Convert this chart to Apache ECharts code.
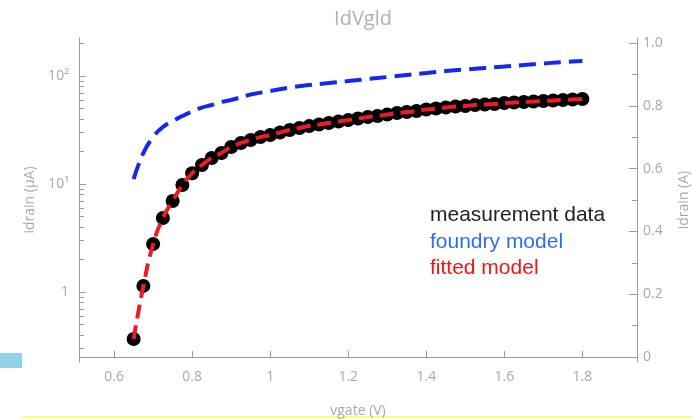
<!DOCTYPE html>
<html lang="en">
<head>
<meta charset="UTF-8">
<title>IdVgld</title>
<script src="https://cdn.jsdelivr.net/npm/echarts@6.0.0/dist/echarts.min.js"></script>
<style>
  html, body { margin: 0; padding: 0; background: #fff; }
  #main { width: 692px; height: 419px; }
</style>
</head>
<body>
<div id="main"></div>
<script>
  // measured points, vgate step 0.025 V, idrain in uA
  const vgate = [0.65, 0.675, 0.7, 0.725, 0.75, 0.775, 0.8, 0.825, 0.85, 0.875, 0.9, 0.925, 0.95, 0.975,
    1.0, 1.025, 1.05, 1.075, 1.1, 1.125, 1.15, 1.175, 1.2, 1.225, 1.25, 1.275, 1.3, 1.325, 1.35, 1.375,
    1.4, 1.425, 1.45, 1.475, 1.5, 1.525, 1.55, 1.575, 1.6, 1.625, 1.65, 1.675, 1.7, 1.725, 1.75, 1.775, 1.8];
  const measured = [0.367, 1.14, 2.78, 4.85, 6.96, 9.79, 12.6, 15.0, 17.4, 19.4, 22.0, 24.0, 25.6, 27.2,
    28.4, 30.0, 31.6, 33.0, 34.4, 35.6, 36.7, 37.9, 39.1, 40.4, 41.7, 42.6, 44.0, 45.4, 46.4, 47.4,
    49.0, 50.0, 51.1, 52.2, 52.8, 53.9, 54.5, 55.1, 56.2, 56.8, 57.5, 58.1, 58.7, 59.3, 60.0, 60.6, 61.2];
  const fitted = [0.367, 1.14, 2.78, 4.85, 6.96, 9.79, 12.6, 15.0, 17.4, 19.4, 22.0, 24.0, 25.6, 27.2,
    28.4, 30.0, 31.6, 33.0, 34.4, 35.6, 36.7, 37.9, 39.1, 40.4, 41.7, 42.6, 44.0, 45.4, 46.4, 47.4,
    49.0, 50.0, 51.1, 52.2, 52.8, 53.9, 54.5, 55.1, 56.2, 56.8, 57.5, 58.1, 58.7, 59.3, 60.0, 60.6, 61.2];

  // foundry model curve
  const foundryVgate = [0.65, 0.675, 0.7, 0.725, 0.75, 0.775, 0.8, 0.825, 0.85, 0.875, 0.9, 0.95, 1.0,
    1.05, 1.1, 1.15, 1.2, 1.25, 1.3, 1.35, 1.4, 1.45, 1.5, 1.55, 1.6, 1.65, 1.7, 1.75, 1.8];
  const foundry = [11.1, 19.4, 27.2, 33.7, 38.3, 42.6, 46.9, 51.1, 53.9, 57.5, 60.0, 67.4, 72.6,
    78.3, 82.5, 86.1, 89.9, 93.8, 97.9, 102.2, 106.6, 111.2, 114.9, 118.6, 122.4, 126.5, 130.5, 134.8, 137.7];

  // ticks
  const xTicks = [0.6, 0.8, 1, 1.2, 1.4, 1.6, 1.8];
  const leftTicks = [1, 10, 100];
  const leftLabels = ['1', '10\u00b9', '10\u00b2'];
  const leftMinor = [0.3, 0.4, 0.5, 0.6, 0.7, 0.8, 0.9, 2, 3, 4, 5, 6, 7, 8, 9,
    20, 30, 40, 50, 60, 70, 80, 90, 200];
  const rightTicks = [0, 0.2, 0.4, 0.6, 0.8, 1.0];
  const rightMinor = [0.1, 0.3, 0.5, 0.7, 0.9];

  const chart = echarts.init(document.getElementById('main'));

  const axisGray = '#9a9a9a';
  const labelGray = '#a8a8a8';
  const font = 'Open Sans';

  const option = {
    animation: false,
    backgroundColor: '#fff',
    title: {
      text: 'IdVgld',
      left: 358,
      top: 4,
      textAlign: 'center',
      textStyle: { color: '#b0b0b0', fontSize: 20, fontWeight: 'normal', fontFamily: font }
    },
    grid: { left: 79, right: 55, top: 38, bottom: 57, outerBoundsMode: 'none', containLabel: false },
    xAxis: {
      type: 'value',
      min: 0.51,
      max: 1.94,
      name: 'vgate (V)',
      nameLocation: 'middle',
      nameGap: 42,
      nameTextStyle: { color: labelGray, fontSize: 14, fontFamily: font },
      axisLine: { lineStyle: { color: axisGray } },
      axisTick: { inside: true, length: 6, customValues: xTicks, lineStyle: { color: axisGray } },
      axisLabel: { customValues: xTicks, color: labelGray, fontSize: 14, fontFamily: font, margin: 8 },
      splitLine: { show: false }
    },
    yAxis: [
      {
        type: 'log',
        logBase: 10,
        min: 0.225,
        max: 225,
        position: 'left',
        name: 'idrain (\u00b5A)',
        nameLocation: 'middle',
        nameRotate: 90,
        nameGap: 42,
        nameTextStyle: { color: labelGray, fontSize: 14, fontFamily: font },
        axisLine: { show: true, lineStyle: { color: axisGray } },
        axisTick: { inside: true, length: 7, customValues: leftTicks, lineStyle: { color: axisGray } },
        axisLabel: {
          customValues: leftTicks,
          color: labelGray, fontSize: 14, fontFamily: font, margin: 10,
          formatter: v => leftLabels[Math.round(Math.log10(v))]
        },
        splitLine: { show: false }
      },
      {
        type: 'value',
        min: -0.016,
        max: 1.016,
        position: 'right',
        name: 'idrain (A)',
        nameLocation: 'middle',
        nameRotate: 90,
        nameGap: 40,
        nameTextStyle: { color: labelGray, fontSize: 14, fontFamily: font },
        axisLine: { show: true, lineStyle: { color: axisGray } },
        axisTick: { inside: true, length: 8, customValues: rightTicks, lineStyle: { color: axisGray } },
        axisLabel: {
          customValues: rightTicks,
          color: labelGray, fontSize: 14, fontFamily: font, margin: 6,
          formatter: v => (v === 0 ? '0' : v.toFixed(1))
        },
        splitLine: { show: false }
      },
      {
        // minor ticks of the right axis
        type: 'value',
        min: -0.016,
        max: 1.016,
        position: 'right',
        axisLine: { show: false },
        axisTick: { inside: true, length: 5, customValues: rightMinor, lineStyle: { color: axisGray } },
        axisLabel: { show: false },
        splitLine: { show: false }
      },
      {
        // minor ticks of the log axis
        type: 'log',
        logBase: 10,
        min: 0.225,
        max: 225,
        position: 'left',
        axisLine: { show: false },
        axisTick: { show: true, inside: true, length: 5, customValues: leftMinor, lineStyle: { color: axisGray } },
        axisLabel: { show: false },
        splitLine: { show: false }
      }
    ],
    series: [
      {
        name: 'measurement data',
        type: 'scatter',
        yAxisIndex: 0,
        symbol: 'circle',
        symbolSize: 14,
        itemStyle: { color: '#000', opacity: 1 },
        data: vgate.map((x, i) => [x, measured[i]]),
        z: 2
      },
      {
        name: 'fitted model',
        type: 'line',
        yAxisIndex: 0,
        showSymbol: false,
        smooth: true,
        lineStyle: { color: '#ec1c24', width: 4, type: [14, 7] },
        data: vgate.map((x, i) => [x, fitted[i]]),
        z: 3
      },
      {
        name: 'foundry model',
        type: 'line',
        yAxisIndex: 0,
        showSymbol: false,
        smooth: true,
        lineStyle: { color: '#1428f0', width: 4, type: [17, 8] },
        data: foundryVgate.map((x, i) => [x, foundry[i]]),
        z: 3
      }
    ],
    graphic: [
      { type: 'text', left: 430, top: 205, style: { text: 'measurement data', fill: '#222', fontSize: 21, fontFamily: 'Liberation Sans' } },
      { type: 'text', left: 430, top: 232, style: { text: 'foundry model', fill: '#2b6cf5', fontSize: 21, fontFamily: 'Liberation Sans' } },
      { type: 'text', left: 430, top: 258, style: { text: 'fitted model', fill: '#f01414', fontSize: 21, fontFamily: 'Liberation Sans' } },
      { type: 'rect', left: 0, top: 353, shape: { width: 22, height: 15 }, style: { fill: '#92d2e6' } },
      { type: 'rect', left: 22, top: 416, shape: { width: 670, height: 2 }, style: { fill: '#ffff70' } }
    ]
  };

  chart.setOption(option);
</script>
</body>
</html>
